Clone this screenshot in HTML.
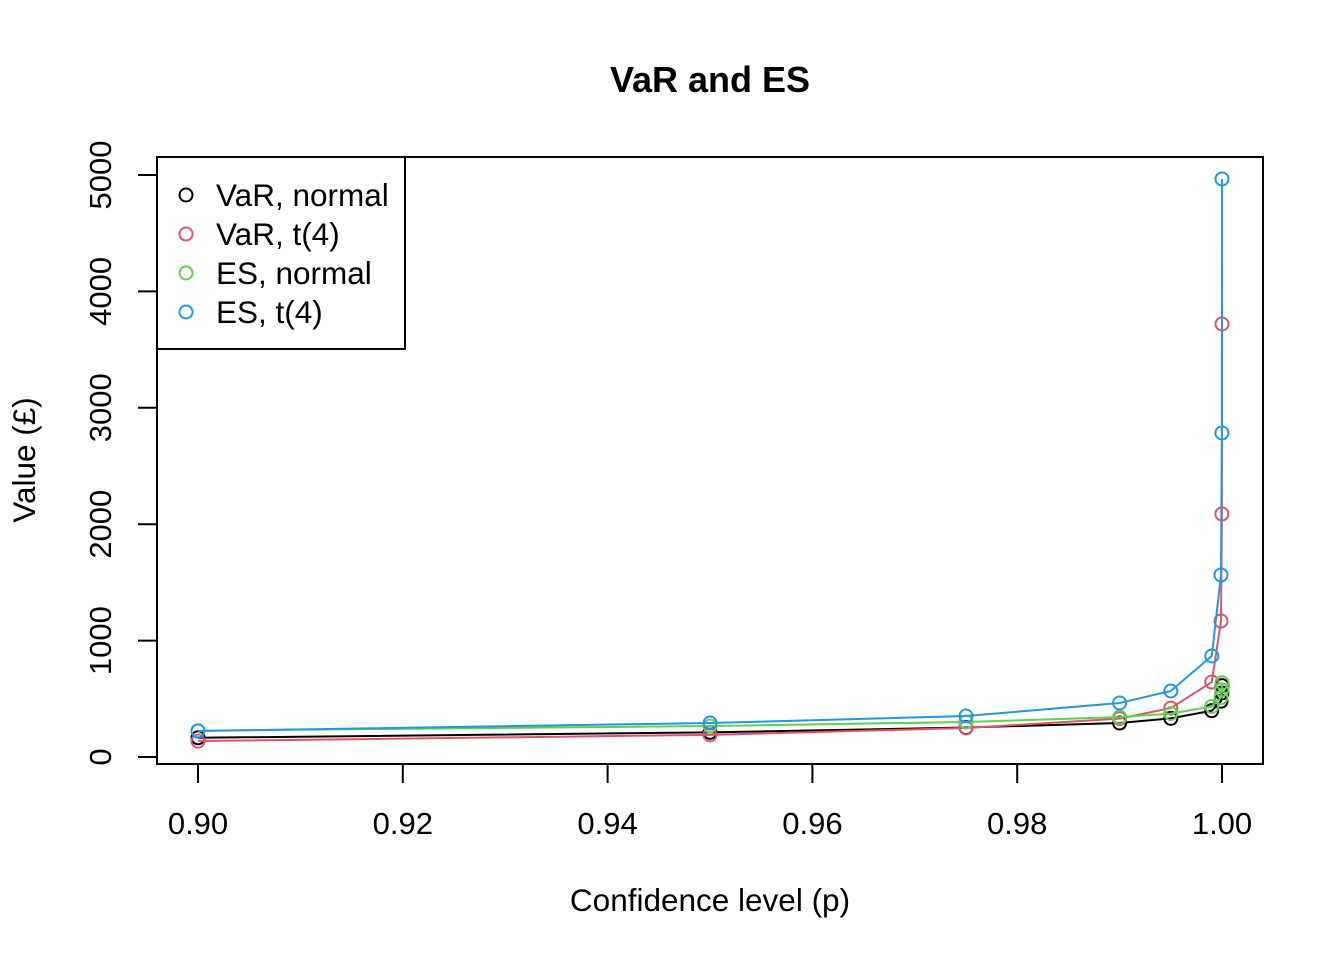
<!DOCTYPE html>
<html><head><meta charset="utf-8"><style>
html,body{margin:0;padding:0;background:#fff}
text{font-family:"Liberation Sans",Arial,sans-serif}
</style></head><body>
<svg id="chart" width="1344" height="960" xmlns="http://www.w3.org/2000/svg">
<text x="710" y="92" text-anchor="middle" font-size="36" font-weight="bold">VaR and ES</text>
<rect x="157" y="157" width="1106" height="607" fill="none" stroke="#000" stroke-width="2"/>
<g id="xaxis"></g>
<g id="yaxis"></g>
<g id="series"></g>
<text x="710" y="911" text-anchor="middle" font-size="31.5">Confidence level (p)</text>
<text transform="translate(35,460) rotate(-90)" text-anchor="middle" font-size="31.5">Value (£)</text>
<g>
<rect x="157" y="157" width="248" height="192" fill="#fff" stroke="#000" stroke-width="2"/>
<g id="legend-items"></g>
</g>
</svg>
<script>
const pLevels = [0.9, 0.95, 0.975, 0.99, 0.995, 0.999, 0.9999, 0.99999, 0.999999];
const varNormal = [165, 212, 253, 292, 332, 398, 479, 550, 613];
const varT4 = [137, 190, 249, 330, 420, 644, 1168, 2088, 3720];
const esNormal = [226, 266, 301, 343, 373, 434, 510, 577, 638];
const esT4 = [223, 292, 352, 464, 567, 868, 1564, 2784, 4966];
const xTicks = [0.90, 0.92, 0.94, 0.96, 0.98, 1.00];
const xTickLabels = ["0.90", "0.92", "0.94", "0.96", "0.98", "1.00"];
const yTicks = [0, 1000, 2000, 3000, 4000, 5000];
const seriesNames = ["VaR, normal", "VaR, t(4)", "ES, normal", "ES, t(4)"];
const seriesColors = ["#000000", "#DF536B", "#61D04F", "#2297E6"];

const NS = "http://www.w3.org/2000/svg";
function xs(p){ return 198 + (p - 0.9) * 10240; }
function ys(v){ return 757 - v * 0.1164; }
function mk(tag, attrs, parent){
  const e = document.createElementNS(NS, tag);
  for (const k in attrs) e.setAttribute(k, attrs[k]);
  parent.appendChild(e); return e;
}
const xa = document.getElementById('xaxis');
mk('line', {x1: xs(0.9), x2: xs(1.0), y1: 764, y2: 764, stroke: '#000', 'stroke-width': 2}, xa);
xTicks.forEach((t, i) => {
  const l = mk('line', {x1: xs(t), x2: xs(t), y1: 764, y2: 783, stroke: '#000', 'stroke-width': 2}, xa);
  
  
  const tx = mk('text', {x: xs(t), y: 834, 'text-anchor': 'middle', 'font-size': 31}, xa);
  tx.textContent = xTickLabels[i];
  
  
});
const ya = document.getElementById('yaxis');
mk('line', {x1: 157, x2: 157, y1: ys(0), y2: ys(5000), stroke: '#000', 'stroke-width': 2}, ya);
yTicks.forEach(t => {
  const l = mk('line', {x1: 138, x2: 157, y1: ys(t), y2: ys(t), stroke: '#000', 'stroke-width': 2}, ya);
  
  
  const tx = mk('text', {transform: `translate(111,${ys(t)}) rotate(-90)`, 'text-anchor': 'middle', 'font-size': 31}, ya);
  tx.textContent = String(t);
  
  
});
const sg = document.getElementById('series');
[varNormal, varT4, esNormal, esT4].forEach((vals, si) => {
  const g = mk('g', {}, sg);
  
  
  const pts = vals.map((v, i) => xs(pLevels[i]) + ',' + ys(v)).join(' ');
  const pl = mk('polyline', {points: pts, fill: 'none', stroke: seriesColors[si], 'stroke-width': 2}, g);
  
  
  vals.forEach((v, i) => {
    const c = mk('circle', {cx: xs(pLevels[i]), cy: ys(v), r: 6.5, fill: 'none', stroke: seriesColors[si], 'stroke-width': 2}, g);
    
    
  });
});
const lg = document.getElementById('legend-items');
seriesNames.forEach((n, i) => {
  const y = 195 + i * 39;
  const g = mk('g', {}, lg);
  
  
  mk('circle', {cx: 186, cy: y, r: 6.5, fill: 'none', stroke: seriesColors[i], 'stroke-width': 2}, g);
  const t = mk('text', {x: 216, y: y + 11, 'font-size': 31.5}, g);
  t.textContent = n;
});
</script>
</body></html>
